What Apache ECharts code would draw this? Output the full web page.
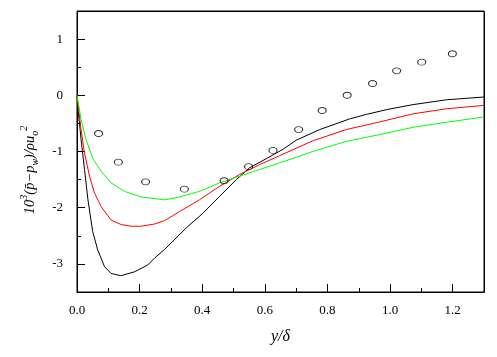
<!DOCTYPE html>
<html>
<head>
<meta charset="utf-8">
<script src="https://cdn.jsdelivr.net/npm/echarts@6/dist/echarts.min.js"></script>
<style>
  html, body { margin: 0; padding: 0; background: #fff; }
  #chart { width: 497px; height: 357px; }
</style>
</head>
<body>
<div id="chart"></div>
<script>
// 实验点 (open circles)
const expPoints = [
  [0.069, -0.68], [0.132, -1.19], [0.219, -1.54], [0.343, -1.67], [0.470, -1.52],
  [0.548, -1.27], [0.626, -0.98], [0.708, -0.61], [0.783, -0.27], [0.863, 0.0],
  [0.944, 0.21], [1.021, 0.435], [1.101, 0.59], [1.199, 0.74]
];
// 黑线
const blackCurve = [
  [0, 0], [0.003, -0.25], [0.008, -0.5], [0.013, -0.79], [0.024, -1.32], [0.035, -1.86],
  [0.05, -2.42], [0.066, -2.75], [0.088, -3.05], [0.109, -3.17], [0.14, -3.21],
  [0.184, -3.14], [0.226, -3.02], [0.247, -2.9], [0.28, -2.74], [0.349, -2.36], [0.402, -2.10],
  [0.455, -1.80], [0.509, -1.50], [0.551, -1.29], [0.604, -1.13], [0.658, -0.96],
  [0.70, -0.80], [0.775, -0.61], [0.871, -0.42], [0.924, -0.34], [0.993, -0.25],
  [1.073, -0.166], [1.18, -0.08], [1.3, -0.03]
];
// 红线
const redCurve = [
  [0, 0], [0.013, -0.61], [0.024, -1.03], [0.04, -1.44], [0.056, -1.74], [0.077, -1.98],
  [0.109, -2.22], [0.141, -2.30], [0.173, -2.33], [0.205, -2.33], [0.248, -2.29],
  [0.28, -2.23], [0.327, -2.07], [0.391, -1.86], [0.455, -1.62], [0.519, -1.41],
  [0.583, -1.235], [0.647, -1.075], [0.753, -0.81], [0.86, -0.61], [0.966, -0.475],
  [1.073, -0.33], [1.18, -0.24], [1.3, -0.18]
];
// 绿线
const greenCurve = [
  [0, 0], [0.013, -0.43], [0.029, -0.79], [0.05, -1.12], [0.077, -1.35], [0.109, -1.56],
  [0.152, -1.71], [0.205, -1.81], [0.28, -1.86], [0.327, -1.81], [0.391, -1.71],
  [0.455, -1.56], [0.519, -1.44], [0.583, -1.32], [0.647, -1.205], [0.753, -1.0],
  [0.86, -0.82], [0.966, -0.70], [1.073, -0.57], [1.18, -0.48], [1.3, -0.385]
];
// 刻度
const xMajorTicks = [0, 0.2, 0.4, 0.6, 0.8, 1.0, 1.2];
const xMinorTicks = [0.1, 0.3, 0.5, 0.7, 0.9, 1.1];
const yMajorTicks = [-3, -2, -1, 0, 1];
const yMinorTicks = [-3.5, -2.5, -1.5, -0.5, 0.5, 1.5];

const font = 'Liberation Serif';
const gridBox = { left: 77, top: 11, width: 407, height: 281 };
const chart = echarts.init(document.getElementById('chart'));

const lineSeries = (data, color) => ({
  type: 'line',
  data: data,
  showSymbol: false,
  smooth: false,
  lineStyle: { color: color, width: 1 },
  silent: true,
  z: 2
});

chart.setOption({
  animation: false,
  textStyle: { fontFamily: font },
  grid: Object.assign({ show: true, borderColor: '#000', borderWidth: 1, backgroundColor: 'transparent' }, gridBox),
  xAxis: [{
    type: 'value', min: 0, max: 1.3,
    name: '{i|y/δ}',
    nameLocation: 'middle', nameGap: 37,
    nameTextStyle: { rich: { i: { fontFamily: font, fontStyle: 'italic', fontSize: 16, color: '#000' } } },
    axisLine: { show: true, onZero: false, lineStyle: { color: '#000', width: 1 } },
    axisTick: { show: true, inside: true, length: 8, lineStyle: { color: '#000' }, customValues: xMajorTicks },
    axisLabel: {
      customValues: xMajorTicks, margin: 12, color: '#000', fontFamily: font, fontSize: 13,
      formatter: v => v.toFixed(1)
    },
    splitLine: { show: false }
  }, {
    type: 'value', min: 0, max: 1.3, position: 'bottom',
    axisLine: { show: false, onZero: false },
    axisTick: { show: true, inside: true, length: 4, lineStyle: { color: '#000' }, customValues: xMinorTicks },
    axisLabel: { show: false },
    splitLine: { show: false }
  }],
  yAxis: [{
    type: 'value', min: -3.5, max: 1.5,
    axisLine: { show: true, onZero: false, lineStyle: { color: '#000', width: 1 } },
    axisTick: { show: true, inside: true, length: 8, lineStyle: { color: '#000' }, customValues: yMajorTicks },
    axisLabel: {
      customValues: yMajorTicks, margin: 14, color: '#000', fontFamily: font, fontSize: 13,
      formatter: v => String(v)
    },
    splitLine: { show: false }
  }, {
    type: 'value', min: -3.5, max: 1.5, position: 'left',
    axisLine: { show: false, onZero: false },
    axisTick: { show: true, inside: true, length: 4, lineStyle: { color: '#000' }, customValues: yMinorTicks },
    axisLabel: { show: false },
    splitLine: { show: false }
  }],
  graphic: [{
    // 图框 上边和右边
    type: 'polyline',
    shape: {
      points: [
        [gridBox.left, gridBox.top + 0.5],
        [gridBox.left + gridBox.width + 0.5, gridBox.top + 0.5],
        [gridBox.left + gridBox.width + 0.5, gridBox.top + gridBox.height + 0.5]
      ]
    },
    style: { stroke: '#000', lineWidth: 1, fill: null }
  }, {
    type: 'text',
    x: 30, y: 170,
    rotation: Math.PI / 2,
    style: {
      text: '{n|10}{sup|3}{n|(p\u0304\u2212p}{sub|w}{n|)/\u03c1u}{sub|o}{sup|2}',
      align: 'center',
      verticalAlign: 'middle',
      fill: '#000',
      rich: {
        n: { fontFamily: font, fontStyle: 'italic', fontSize: 14.5, lineHeight: 21, verticalAlign: 'middle' },
        sup: { fontFamily: font, fontStyle: 'italic', fontSize: 10, lineHeight: 21, verticalAlign: 'top' },
        sub: { fontFamily: font, fontStyle: 'italic', fontSize: 10, lineHeight: 21, verticalAlign: 'bottom' }
      }
    }
  }],
  series: [
    lineSeries(blackCurve, '#000000'),
    lineSeries(redCurve, '#ff0000'),
    lineSeries(greenCurve, '#00ff00'),
    {
      type: 'scatter',
      data: expPoints,
      symbol: 'circle',
      symbolSize: [8, 6],
      itemStyle: { color: 'transparent', borderColor: '#000', borderWidth: 1 },
      silent: true,
      z: 3
    }
  ]
});
</script>
</body>
</html>
